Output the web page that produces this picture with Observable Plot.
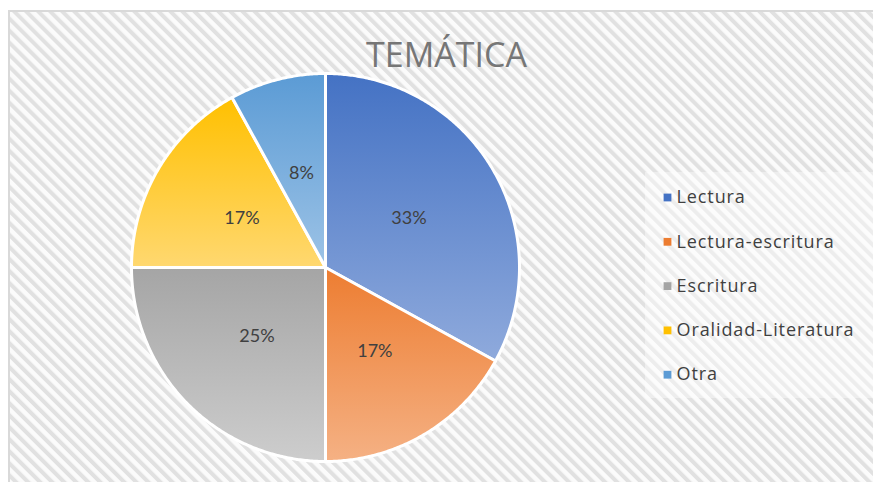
<!DOCTYPE html>
<html>
<head>
<meta charset="utf-8">
<script src="https://cdn.jsdelivr.net/npm/d3@7"></script>
<script src="https://cdn.jsdelivr.net/npm/@observablehq/plot@0.6"></script>
<style>
  html, body { margin: 0; padding: 0; background: #ffffff; }
  #chart svg { display: block; }
  .legend-text text { letter-spacing: 0.9px; }
</style>
</head>
<body>
<div id="chart"></div>
<script>
// ---- Data ----
const title = "TEMÁTICA";
const categories = ["Lectura", "Lectura-escritura", "Escritura", "Oralidad-Literatura", "Otra"];
const percents = [33, 17, 25, 17, 8];
const darkColors = ["#4472C4", "#ED7D31", "#A5A5A5", "#FFC000", "#5B9BD5"];
const lightColors = ["#8FAADC", "#F5B184", "#CDCDCD", "#FFD870", "#9DC3E6"];

// ---- Layout ----
const W = 873, H = 482;
const cx = 325, cy = 267, R = 194;
const px = (x) => (x - cx) / R;   // pixel -> unit coords
const py = (y) => (cy - y) / R;

// pie geometry from the data
const arcs = d3.pie().sort(null).value(d => d.pct)(
  categories.map((name, i) => ({name, i, pct: percents[i]}))
);
const points = [];
const slices = [];
for (const a of arcs) {
  const {name, i} = a.data;
  points.push({name, i, x: 0, y: 0});
  const n = Math.max(8, Math.ceil((a.endAngle - a.startAngle) / (Math.PI / 360)));
  for (let k = 0; k <= n; k++) {
    const t = a.startAngle + (a.endAngle - a.startAngle) * k / n;
    points.push({name, i, x: Math.sin(t), y: Math.cos(t)});
  }
  points.push({name, i, x: 0, y: 0});
  const mid = (a.startAngle + a.endAngle) / 2;
  slices.push({name, i, pct: a.data.pct, x: 0.5 * Math.sin(mid), y: 0.5 * Math.cos(mid)});
}

const legend = categories.map((name, i) => ({name, i, row: i}));
const legendY = (i) => 197 + i * 44.3;

function background(index, scales, values, dimensions) {
  const g = d3.create("svg:g");
  const defs = g.append("defs");
  const pat = defs.append("pattern")
    .attr("id", "stripes").attr("patternUnits", "userSpaceOnUse")
    .attr("width", 8.5).attr("height", 8.5)
    .attr("patternTransform", "rotate(-45)");
  pat.append("rect").attr("width", 8.5).attr("height", 8.5).attr("fill", "#fbfbfb");
  pat.append("rect").attr("width", 4).attr("height", 8.5).attr("fill", "#e1e1e1");
  darkColors.forEach((c, i) => {
    const lg = defs.append("linearGradient").attr("id", "grad" + i)
      .attr("x1", 0).attr("y1", 0).attr("x2", 0).attr("y2", 1);
    lg.append("stop").attr("offset", "0%").attr("stop-color", c);
    lg.append("stop").attr("offset", "100%").attr("stop-color", lightColors[i]);
  });
  g.append("rect").attr("x", 9).attr("y", 11).attr("width", dimensions.width)
    .attr("height", dimensions.height).attr("fill", "url(#stripes)")
    .attr("stroke", "#d9d9d9").attr("stroke-width", 2);
  g.append("rect").attr("x", 645).attr("y", 172).attr("width", 240).attr("height", 226)
    .attr("fill", "#ffffff").attr("fill-opacity", 0.4);
  return g.node();
}

const chart = Plot.plot({
  width: W,
  height: H,
  margin: 0,
  style: {background: "white", overflow: "visible"},
  x: {domain: [-1, 1], range: [cx - R, cx + R], axis: null},
  y: {domain: [-1, 1], range: [cy + R, cy - R], axis: null},
  color: {type: "identity"},
  marks: [
    background,
    Plot.line(points, {
      x: "x", y: "y", z: "name",
      fill: d => `url(#grad${d.i})`,
      stroke: "white", strokeWidth: 3, strokeLinejoin: "round", curve: "linear"
    }),
    Plot.text(slices, {
      x: "x", y: "y", text: d => d.pct + "%",
      fontFamily: "Lato", fontSize: 18, fill: "#404040"
    }),
    Plot.text([title], {
      x: px(446), y: py(56), text: d => d,
      fontFamily: "Open Sans", fontWeight: 400, fontSize: 34, fill: "#767676"
    }),
    Plot.dot(legend, {
      x: px(667), y: d => py(legendY(d.row)), symbol: "square", r: 4.4,
      fill: d => darkColors[d.i], stroke: "none"
    }),
    Plot.text(legend, {
      x: px(676), y: d => py(legendY(d.row)), text: "name", textAnchor: "start",
      fontFamily: "Open Sans", fontSize: 18, fill: "#404040", className: "legend-text"
    })
  ]
});
document.getElementById("chart").appendChild(chart);
</script>
</body>
</html>
